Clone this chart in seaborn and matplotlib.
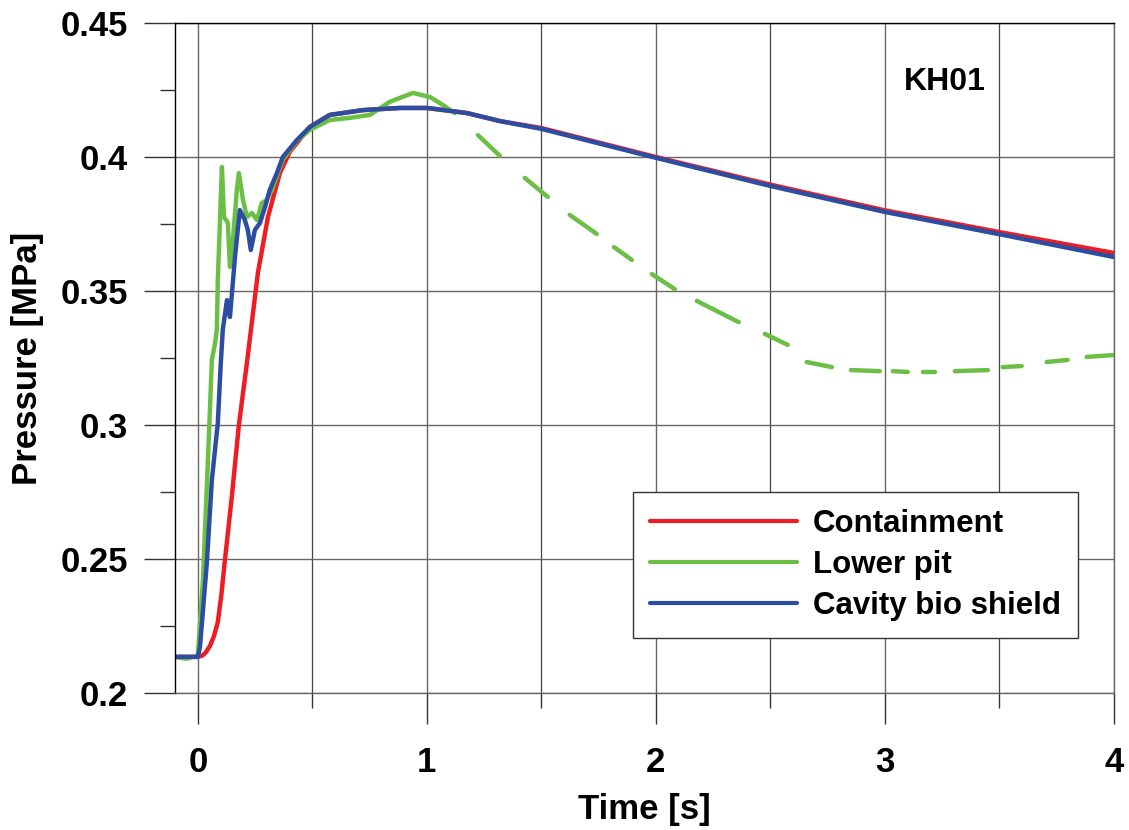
import numpy as np
import pandas as pd
import matplotlib
matplotlib.use("Agg")
import matplotlib.pyplot as plt
import seaborn as sns

# Containment
red_t = [-0.1, 0.0, 0.02, 0.035, 0.052, 0.07, 0.087, 0.103, 0.118, 0.148, 0.179,
         0.214, 0.262, 0.306, 0.358, 0.402, 0.489, 0.576, 0.721, 0.882, 1.0, 1.175,
         1.319, 1.5, 2.0, 2.5, 3.0, 3.5, 4.0]
red_p = [0.2135, 0.2135, 0.2140, 0.2152, 0.2175, 0.2212, 0.2265, 0.2370, 0.2496,
         0.2731, 0.3000, 0.3231, 0.3567, 0.3776, 0.3940, 0.4020, 0.4112, 0.4157,
         0.4175, 0.4183, 0.4183, 0.4164, 0.4134, 0.4108, 0.4000, 0.3897, 0.3801,
         0.3720, 0.3642]

# Cavity bio shield
blue_t = [-0.1, 0.0, 0.009, 0.039, 0.061, 0.087, 0.100, 0.109, 0.127, 0.140, 0.162,
          0.183, 0.205, 0.218, 0.231, 0.249, 0.271, 0.293, 0.314, 0.345, 0.371,
          0.432, 0.489, 0.576, 0.721, 0.882, 1.0, 1.175, 1.319, 1.5, 2.0, 2.5,
          3.0, 3.5, 4.0]
blue_p = [0.2135, 0.2135, 0.2172, 0.2485, 0.2795, 0.3007, 0.3231, 0.3358, 0.3466,
          0.3403, 0.3627, 0.3802, 0.3765, 0.3728, 0.3653, 0.3728, 0.3754, 0.3813,
          0.3877, 0.3940, 0.4000, 0.4063, 0.4112, 0.4157, 0.4175, 0.4183, 0.4183,
          0.4164, 0.4134, 0.4105, 0.3997, 0.3892, 0.3795, 0.3712, 0.3627]

# Lower pit, continuous part
green_t = [-0.1, -0.05, 0.0, 0.022, 0.039, 0.052, 0.061, 0.074, 0.083, 0.087, 0.105,
           0.114, 0.131, 0.140, 0.153, 0.170, 0.179, 0.197, 0.214, 0.236, 0.258,
           0.279, 0.301, 0.323, 0.371, 0.432, 0.489, 0.576, 0.664, 0.751, 0.838,
           0.939, 1.013, 1.070, 1.122]
green_p = [0.2135, 0.2128, 0.2140, 0.2422, 0.2769, 0.3045, 0.3243, 0.3300, 0.3358,
           0.3541, 0.3963, 0.3776, 0.3754, 0.3590, 0.3690, 0.3877, 0.3940, 0.3840,
           0.3776, 0.3791, 0.3765, 0.3828, 0.3840, 0.3877, 0.3990, 0.4060, 0.4101,
           0.4138, 0.4146, 0.4157, 0.4206, 0.4239, 0.4224, 0.4194, 0.4164]

# Lower pit, broken part (signal dropouts)
gap_t0 = [1.223, 1.428, 1.624, 1.817, 1.983, 2.179, 2.476, 2.659, 2.852, 3.035,
          3.166, 3.306, 3.515, 3.707, 3.882]
gap_t1 = [1.319, 1.528, 1.742, 1.895, 2.083, 2.362, 2.576, 2.769, 2.978, 3.100,
          3.218, 3.450, 3.598, 3.799, 3.996]
gap_p0 = [0.4082, 0.3922, 0.3784, 0.3664, 0.3563, 0.3463, 0.3340, 0.3235, 0.3205,
          0.3201, 0.3198, 0.3201, 0.3216, 0.3235, 0.3254]
gap_p1 = [0.4004, 0.3851, 0.3713, 0.3616, 0.3507, 0.3384, 0.3299, 0.3216, 0.3201,
          0.3198, 0.3198, 0.3205, 0.3220, 0.3243, 0.3261]

names = ["Containment", "Lower pit", "Cavity bio shield"]
colors = {"Containment": "#EE1D23", "Lower pit": "#6CBF45", "Cavity bio shield": "#2C4DA2"}

rows = []
for t, p in zip(red_t, red_p):
    rows.append(("Containment", 0, t, p))
for t, p in zip(green_t, green_p):
    rows.append(("Lower pit", 0, t, p))
for i in range(len(gap_t0)):
    rows.append(("Lower pit", i + 1, gap_t0[i], gap_p0[i]))
    rows.append(("Lower pit", i + 1, gap_t1[i], gap_p1[i]))
for t, p in zip(blue_t, blue_p):
    rows.append(("Cavity bio shield", 0, t, p))
df = pd.DataFrame(rows, columns=["series", "seg", "time", "pressure"])

sns.set_style("white")
plt.rcParams["font.family"] = ["Liberation Sans", "DejaVu Sans"]
plt.rcParams["font.weight"] = "bold"
plt.rcParams["text.color"] = "black"
plt.rcParams["axes.labelcolor"] = "black"
plt.rcParams["xtick.color"] = "black"
plt.rcParams["ytick.color"] = "black"

fig = plt.figure(figsize=(11.29, 8.30), dpi=100)
ax = fig.add_axes([0.155, 0.165, 0.8315, 0.8073])

sns.lineplot(data=df, x="time", y="pressure", hue="series", units="seg",
             estimator=None, sort=False, hue_order=names, palette=colors,
             linewidth=3.2, ax=ax, legend=False)

ax.set_xlim(-0.1, 4)
ax.set_ylim(0.2, 0.45)
ax.set_xticks([0, 1, 2, 3, 4])
ax.set_xticklabels(["0", "1", "2", "3", "4"])
ax.set_xticks([0.5, 1.5, 2.5, 3.5], minor=True)
ax.set_yticks([0.2, 0.25, 0.3, 0.35, 0.4, 0.45])
ax.set_yticklabels(["0.2", "0.25", "0.3", "0.35", "0.4", "0.45"])
ax.set_yticks([0.225, 0.275, 0.325, 0.375, 0.425], minor=True)

ax.grid(True, which="major", color="#666666", linewidth=1.0)
ax.grid(True, which="minor", axis="x", color="#444444", linewidth=0.9)
ax.set_axisbelow(True)

ax.tick_params(axis="both", which="major", direction="out", length=22, width=1,
               color="#333333", labelcolor="black", labelsize=25)
ax.tick_params(axis="both", which="minor", direction="out", length=11, width=1,
               color="#333333")
ax.tick_params(axis="y", which="major", pad=12)
ax.tick_params(axis="x", which="major", pad=16)
ax.tick_params(left=True, bottom=True, which="both")

for side in ["left", "top"]:
    ax.spines[side].set_color("black")
    ax.spines[side].set_linewidth(1.0)
for side in ["right", "bottom"]:
    ax.spines[side].set_color("#666666")
    ax.spines[side].set_linewidth(1.0)

ax.set_xlabel("Time [s]", fontsize=25, fontweight="bold", labelpad=10, color="black")
ax.set_ylabel("Pressure [MPa]", fontsize=25, fontweight="bold", labelpad=12, color="black")

ax.text(0.82, 0.912, "KH01", transform=ax.transAxes, fontsize=23,
        fontweight="bold", ha="center", va="center", color="black")

handles = [plt.Line2D([], [], color=colors[n], linewidth=3) for n in names]
leg = ax.legend(handles, names, loc="lower right", bbox_to_anchor=(0.962, 0.082),
                fontsize=22.5, frameon=True, fancybox=False, framealpha=1,
                edgecolor="#333333", handlelength=4.7, handletextpad=0.5,
                borderpad=0.55, labelspacing=0.35, borderaxespad=0,
                labelcolor="black")
leg.get_frame().set_linewidth(1.0)

fig.savefig("out.png", dpi=100)
